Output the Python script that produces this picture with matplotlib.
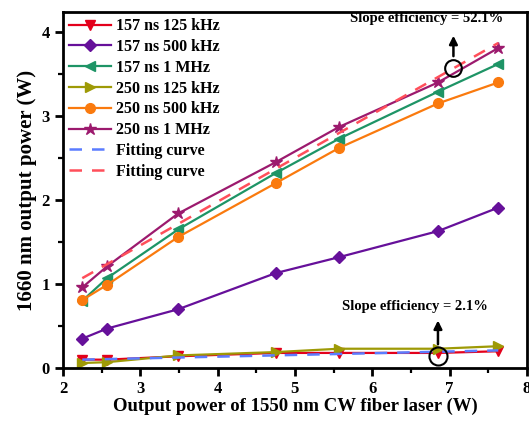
import matplotlib
matplotlib.use("Agg")
import matplotlib.pyplot as plt
import numpy as np

plt.rcParams["font.family"] = ["Liberation Serif", "DejaVu Serif"]
plt.rcParams["font.weight"] = "bold"

# ─── Dados ────────────────────────────────────────────────────────────────────
pump_w = [2.25, 2.57, 3.49, 4.75, 5.57, 6.85, 7.63]

p157_125k = [0.10, 0.10, 0.14, 0.18, 0.18, 0.18, 0.20]
p157_500k = [0.35, 0.47, 0.70, 1.13, 1.32, 1.63, 1.91]
p157_1m   = [0.80, 1.07, 1.65, 2.32, 2.73, 3.29, 3.62]
p250_125k = [0.06, 0.07, 0.15, 0.19, 0.23, 0.23, 0.26]
p250_500k = [0.81, 0.99, 1.56, 2.20, 2.62, 3.15, 3.40]
p250_1m   = [0.96, 1.21, 1.84, 2.45, 2.87, 3.40, 3.81]

fit_x    = [2.25, 7.63]
fit_low  = [0.10, 0.21]   # 2.1 %
fit_high = [1.07, 3.87]   # 52.1 %

labels = ["157 ns 125 kHz", "157 ns 500 kHz", "157 ns 1 MHz",
          "250 ns 125 kHz", "250 ns 500 kHz", "250 ns 1 MHz"]

series = [
    (p157_125k, "#E3001B", "v", 7),
    (p157_500k, "#66109A", "D", 6),
    (p157_1m,   "#1E9466", "<", 7),
    (p250_125k, "#9E9A06", ">", 7),
    (p250_500k, "#FA7A0E", "o", 7),
    (p250_1m,   "#9C1A6E", "*", 9),
]

fig = plt.figure(figsize=(5.29, 4.25), dpi=100)
ax = fig.add_axes([0.119, 0.134, 0.877, 0.838])

for (vals, color, mk, ms), lab in zip(series, labels):
    ax.plot(pump_w, vals, color=color, marker=mk, markersize=ms,
            linewidth=1.6, label=lab)

ax.plot(fit_x, fit_low, color="#5B7CFF", linestyle=(0, (5, 4)),
        linewidth=1.8, label="Fitting curve")
ax.plot(fit_x, fit_high, color="#FF4F5A", linestyle=(0, (5, 4)),
        linewidth=1.8, label="Fitting curve")

# Anotações de eficiência
ax.plot([7.05], [3.57], marker="o", markersize=12, markerfacecolor="none",
        markeredgecolor="black", markeredgewidth=1.5)
ax.annotate("", xy=(7.05, 3.99), xytext=(7.05, 3.68),
            arrowprops=dict(arrowstyle="-|>", color="black", lw=1.8,
                            mutation_scale=12))
ax.text(6.70, 4.08, "Slope efficiency = 52.1%", ha="center", va="bottom",
        fontsize=10.5, fontweight="bold")

ax.plot([6.85], [0.14], marker="o", markersize=13, markerfacecolor="none",
        markeredgecolor="black", markeredgewidth=1.5)
ax.annotate("", xy=(6.85, 0.60), xytext=(6.85, 0.25),
            arrowprops=dict(arrowstyle="-|>", color="black", lw=1.8,
                            mutation_scale=12))
ax.text(6.55, 0.66, "Slope efficiency = 2.1%", ha="center", va="bottom",
        fontsize=10.5, fontweight="bold")

ax.set_xlim(2, 8)
ax.set_ylim(0, 4.24)
ax.set_xticks(np.arange(2, 9, 1))
ax.set_yticks(np.arange(0, 5, 1))
ax.set_xticks(np.arange(2.5, 8, 1), minor=True)
ax.set_yticks(np.arange(0.5, 4.2, 1), minor=True)
ax.tick_params(axis="both", which="major", direction="out", length=6,
               width=2, labelsize=12, top=False, right=False)
ax.tick_params(axis="both", which="minor", direction="out", length=3.5,
               width=1.6, top=False, right=False)
for s in ax.spines.values():
    s.set_linewidth(2)

ax.set_xlabel("Output power of 1550 nm CW fiber laser (W)",
              fontsize=13.5, fontweight="bold", labelpad=0)
ax.set_ylabel("1660 nm output power (W)", fontsize=15,
              fontweight="bold", labelpad=3)

ax.legend(loc="upper left", frameon=False, fontsize=11.5,
          handlelength=2.6, handletextpad=0.3, labelspacing=0.3,
          borderaxespad=0.2, borderpad=0.2)

fig.savefig("out.png", dpi=100)
